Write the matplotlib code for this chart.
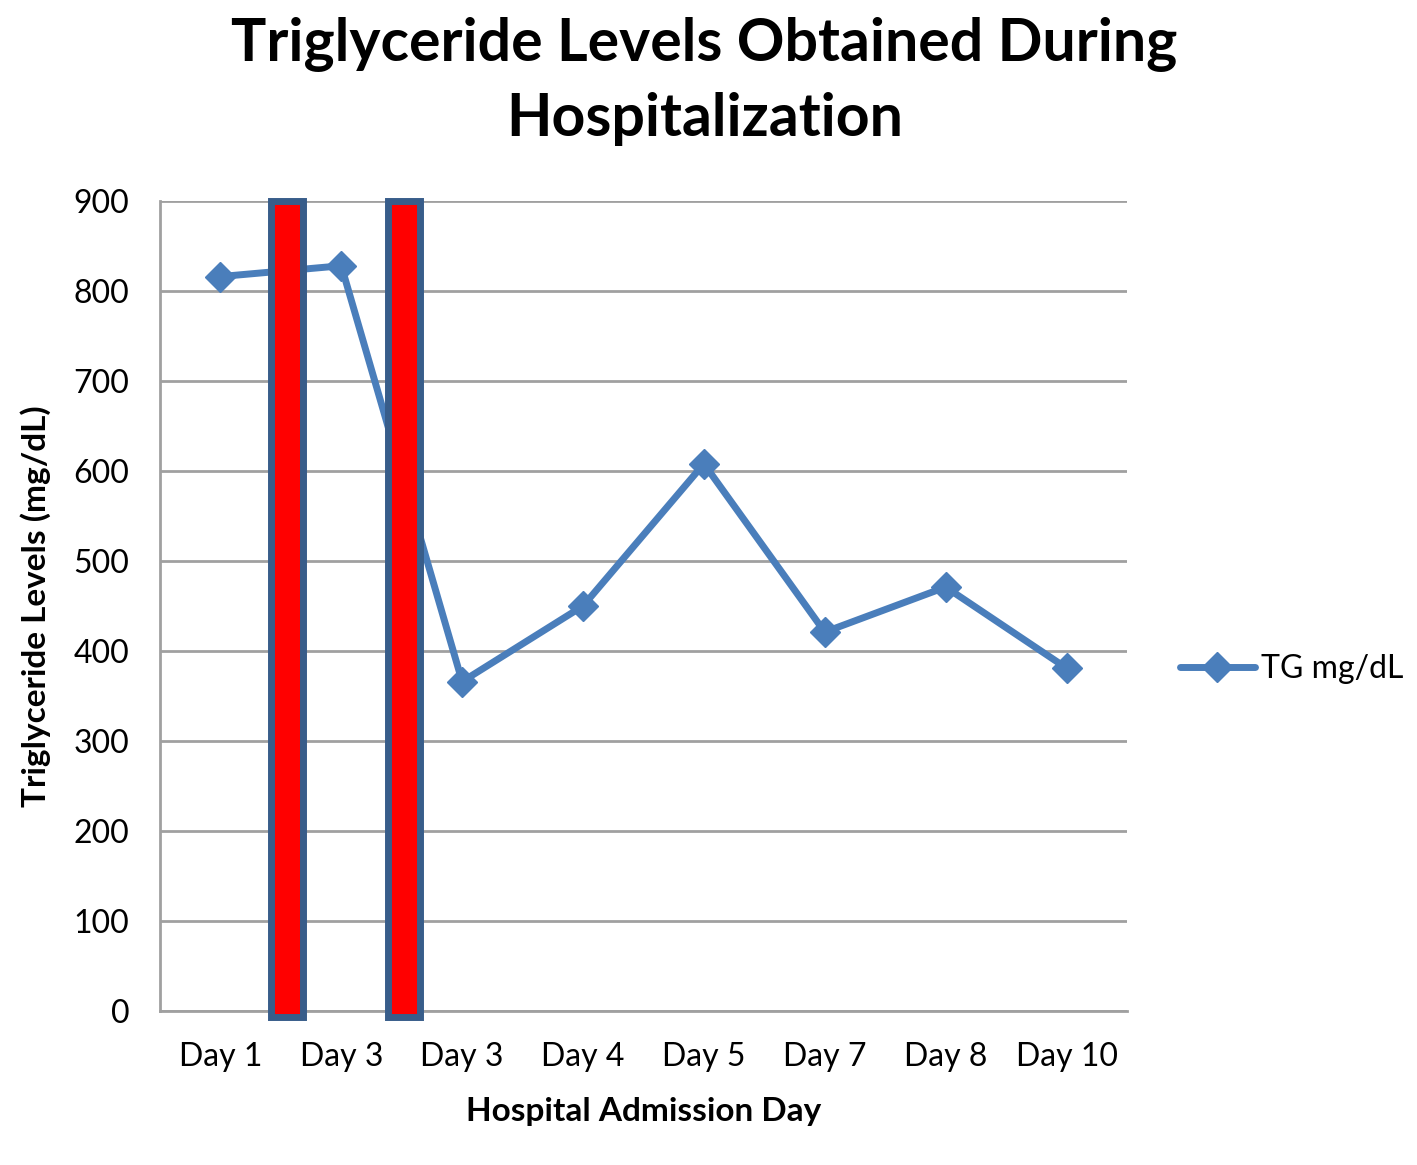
import numpy as np
import matplotlib.pyplot as plt

plt.rcParams['font.family'] = ['Lato', 'DejaVu Sans']

days = ['Day 1', 'Day 3', 'Day 3', 'Day 4', 'Day 5', 'Day 7', 'Day 8', 'Day 10']
tg_levels = [816, 828, 366, 450, 608, 421, 471, 381]
yticks = [0, 100, 200, 300, 400, 500, 600, 700, 800, 900]

line_blue = '#4A7EBB'
edge_blue = '#385D8A'
grid_grey = '#A0A0A0'

fig = plt.figure(figsize=(14.17, 11.65), dpi=100)
ax = fig.add_axes([0.1129, 0.1322, 0.6824, 0.6953])

x = np.arange(len(days))
ax.plot(x, tg_levels, color=line_blue, lw=5, marker='D', markersize=15,
        label='TG mg/dL', zorder=3, solid_capstyle='round')

# red markers between the days (drawn on top of the line)
for xc in [0.55, 1.52]:
    ax.bar(xc, 907, bottom=-7, width=0.27, color='#FF0000', edgecolor=edge_blue,
           linewidth=5, zorder=4, clip_on=False)

ax.set_xlim(-0.5, len(days) - 0.5)
ax.set_ylim(0, 900)
ax.set_yticks(yticks)
ax.set_xticks(x)
ax.set_xticklabels(days)
ax.tick_params(axis='both', length=0, labelsize=23, pad=22)
ax.tick_params(axis='x', pad=22)
ax.yaxis.grid(True, color=grid_grey, lw=2)
ax.set_axisbelow(True)
for s in ['top', 'right']:
    ax.spines[s].set_visible(False)
for s in ['left', 'bottom']:
    ax.spines[s].set_color(grid_grey)
    ax.spines[s].set_linewidth(2)

ax.set_ylabel('Triglyceride Levels (mg/dL)', fontsize=24, fontweight='bold', labelpad=16)
ax.set_xlabel('Hospital Admission Day', fontsize=24, fontweight='bold', labelpad=18)

fig.suptitle('Triglyceride Levels Obtained During\nHospitalization', fontsize=42.5,
             fontweight='bold', x=0.497, y=0.985, linespacing=1.45)

fig.legend(loc='center left', bbox_to_anchor=(0.8123, 0.426), frameon=False,
           fontsize=23, handlelength=2.35, handletextpad=0.2)

fig.savefig('out.png', dpi=100)
